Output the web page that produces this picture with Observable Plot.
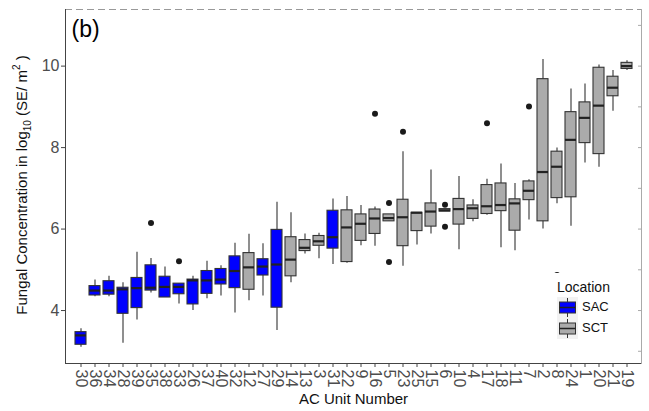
<!DOCTYPE html>
<html><head><meta charset="utf-8">
<script src="https://cdn.jsdelivr.net/npm/d3@7"></script>
<script src="https://cdn.jsdelivr.net/npm/@observablehq/plot@0.6"></script>
<style>
body{margin:0;background:#fff;}
#wrap{position:relative;width:649px;height:411px;font-family:"Liberation Sans",Arial,sans-serif;}
#legend{position:absolute;left:552px;top:273px;width:64px;height:72px;background:#fff;}
#legend .title{position:absolute;left:5px;top:6px;font-size:14px;color:#111;}
#legend .row{position:absolute;left:5px;height:21px;}
#legend .row span{position:absolute;left:25px;top:2px;font-size:13px;color:#111;}
</style></head><body><div id="wrap"></div>
<script>
const units = ["30","36","34","28","39","35","38","33","26","37","40","32","12","27","29","14","13","3","31","22","9","16","5","23","25","15","6","10","4","17","18","11","7","2","8","24","1","20","21","19"];
const locs  = ["SAC","SAC","SAC","SAC","SAC","SAC","SAC","SAC","SAC","SAC","SAC","SAC","SCT","SAC","SAC","SCT","SCT","SCT","SAC","SCT","SCT","SCT","SCT","SCT","SCT","SCT","SCT","SCT","SCT","SCT","SCT","SCT","SCT","SCT","SCT","SCT","SCT","SCT","SCT","SCT"];
const lo  = [3.10,4.34,4.34,3.20,3.77,4.43,4.32,4.16,4.00,4.29,4.36,3.94,4.24,4.36,3.51,4.68,5.39,5.27,5.13,5.16,5.59,5.58,6.19,5.09,5.61,5.88,6.43,5.49,6.18,6.34,5.54,5.47,6.22,6.00,6.62,6.07,7.62,7.52,8.89,9.89];
const q1  = [3.16,4.37,4.39,3.92,4.06,4.49,4.32,4.40,4.15,4.41,4.64,4.55,4.51,4.86,4.07,4.84,5.46,5.59,5.52,5.19,5.71,5.88,6.19,5.58,5.95,6.06,6.43,6.11,6.25,6.37,6.44,5.96,6.71,6.19,6.76,6.78,8.11,7.84,9.26,9.93];
const med = [3.39,4.49,4.49,4.52,4.55,4.56,4.58,4.58,4.74,4.74,4.76,4.97,5.06,5.08,5.13,5.25,5.54,5.70,5.80,6.04,6.13,6.26,6.27,6.29,6.40,6.43,6.46,6.49,6.51,6.56,6.59,6.63,6.94,7.40,7.53,8.19,8.73,9.03,9.47,10.00];
const q3  = [3.47,4.60,4.72,4.56,4.80,5.11,4.83,4.66,4.76,4.97,5.02,5.33,5.41,5.26,5.98,5.80,5.73,5.83,6.45,6.46,6.36,6.48,6.36,6.72,6.40,6.63,6.49,6.74,6.58,7.08,7.12,6.73,7.17,9.68,7.90,8.87,9.11,9.96,9.74,10.08];
const hi  = [3.55,4.75,4.84,4.68,5.43,5.28,5.07,4.66,4.84,5.21,5.10,5.65,5.87,5.64,6.66,6.40,5.88,5.90,6.74,6.80,6.58,6.54,6.36,7.90,6.40,7.45,6.49,7.29,6.72,7.22,7.60,7.12,7.21,10.16,7.99,9.44,9.56,10.03,9.89,10.13];
const outUnits = ["35","33","16","5","5","23","6","6","17","7","8"];
const outVals  = [6.15,5.21,8.83,6.64,5.19,8.39,6.60,6.06,8.60,9.01,4.87];
const yTicks = [4,6,8,10];
const rightTicks = [3,4,5,6,7,8,9,10,11];
const locNames = ["SAC","SCT"];
const locColors = ["#0000FF","#ABABAB"];

const boxes = units.map((u,i)=>({unit:u, loc:locs[i], lo:lo[i], q1:q1[i], med:med[i], q3:q3[i], hi:hi[i]}));
const outliers = outUnits.map((u,i)=>({unit:u, v:outVals[i]}));
const yDomain = [2.70, 11.39];
const font = "'Liberation Sans', Arial, sans-serif";

const plot = Plot.plot({
  width:649, height:411, marginLeft:65, marginRight:8, marginTop:9, marginBottom:48,
  style:{fontFamily:font, background:"#fff", overflow:"visible"},
  x:{type:"band", domain:units, paddingInner:0.25, paddingOuter:0.225, label:null},
  y:{domain:yDomain, label:null},
  color:{domain:locNames, range:locColors},
  marks:[
    Plot.ruleY([yDomain[1]], {stroke:"#999", strokeDasharray:"7,4"}),
    Plot.frame({anchor:"right", stroke:"#aaa"}),
    Plot.axisY({anchor:"right", ticks:rightTicks, tickSize:-4, tickFormat:()=>"", stroke:"#aaa"}),
    Plot.frame({anchor:"left", stroke:"#444"}),
    Plot.ruleY([yDomain[0]], {stroke:"#444"}),
    Plot.axisY({anchor:"left", ticks:yTicks, tickSize:4, tickPadding:2, fontSize:16, fill:"#4d4d4d", stroke:"#444"}),
    Plot.axisX({anchor:"bottom", tickSize:4, tickPadding:2, tickRotate:90, fontSize:16, fill:"#4d4d4d", stroke:"#444"}),
    Plot.ruleX(boxes, {x:"unit", y1:"lo", y2:"hi", stroke:"#333", strokeWidth:1.1}),
    Plot.barY(boxes, {x:"unit", y1:"q1", y2:"q3", fill:"loc", stroke:"#333", strokeWidth:1.1}),
    Plot.tickY(boxes, {x:"unit", y:"med", stroke:"#222", strokeWidth:2.2}),
    Plot.dot(outliers, {x:"unit", y:"v", r:3, fill:"#1a1a1a", stroke:null}),
    Plot.text(["(b)"], {frameAnchor:"top-left", dx:6, dy:11, fontSize:23, fill:"#000", textAnchor:"start", lineAnchor:"top"}),
    Plot.text(["AC Unit Number"], {frameAnchor:"bottom", dy:40, fontSize:15, fill:"#111", lineAnchor:"bottom"})
  ]
});

const svg = d3.select(plot);
const t = svg.append("text")
  .attr("transform","translate(27,185) rotate(-90)")
  .attr("text-anchor","middle").attr("font-size",15).attr("fill","#111")
  .attr("font-family", font);
t.append("tspan").text("Fungal Concentration in log");
t.append("tspan").attr("font-size",10).attr("dy",4).text("10");
t.append("tspan").attr("dy",-4).text(" (SE/ m");
t.append("tspan").attr("font-size",10).attr("dy",-7).text("2");
t.append("tspan").attr("dy",7).text(" )");

const wrap = document.getElementById("wrap");
wrap.appendChild(plot);

// legend
const leg = document.createElement("div");
leg.id = "legend";
const title = document.createElement("div");
title.className = "title"; title.textContent = "Location";
leg.appendChild(title);
locNames.forEach((name,i)=>{
  const row = document.createElement("div");
  row.className = "row"; row.style.top = (24 + i*21) + "px";
  const s = d3.create("svg").attr("width",21).attr("height",21);
  s.append("rect").attr("width",21).attr("height",21).attr("fill","#f2f2f2");
  s.append("line").attr("x1",10.5).attr("x2",10.5).attr("y1",1).attr("y2",20).attr("stroke","#333");
  s.append("rect").attr("x",2.5).attr("y",5).attr("width",16).attr("height",11).attr("fill",locColors[i]).attr("stroke","#333");
  s.append("line").attr("x1",2.5).attr("x2",18.5).attr("y1",10.5).attr("y2",10.5).attr("stroke","#222").attr("stroke-width",1.5);
  row.appendChild(s.node());
  const lab = document.createElement("span"); lab.textContent = name;
  row.appendChild(lab);
  leg.appendChild(row);
});
wrap.appendChild(leg);
</script></body></html>
